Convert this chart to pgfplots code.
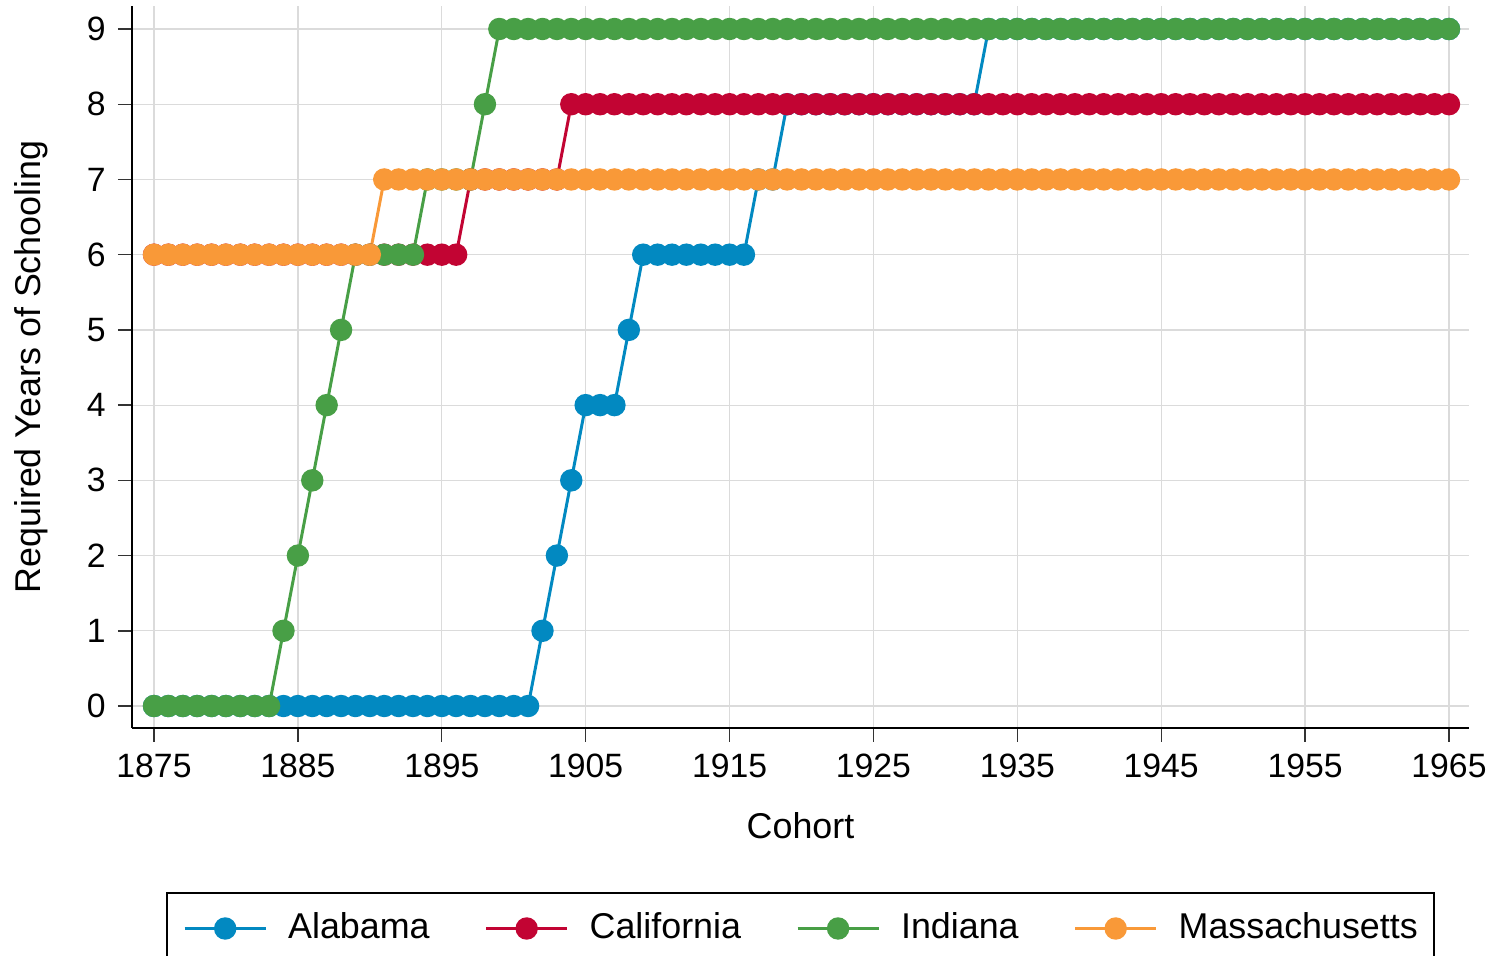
\documentclass[border=0pt]{standalone}
\usepackage{fontspec}
\setmainfont{Liberation Sans}
\usepackage{pgfplots}
\pgfplotsset{compat=1.18}
\definecolor{alab}{RGB}{2,137,193}
\definecolor{cali}{RGB}{194,4,51}
\definecolor{indi}{RGB}{72,159,70}
\definecolor{mass}{RGB}{249,153,56}
\newcommand{\fs}{\fontsize{9.6}{11.5}\selectfont}
\newcommand{\fl}{\fontsize{10.2}{12.2}\selectfont}
\begin{document}
\begin{tikzpicture}
\begin{axis}[
  scale only axis, width=133.7mm, height=72.2mm,
  xmin=1873.47, xmax=1966.39, ymin=-0.292, ymax=9.306,
  axis x line*=bottom, axis y line*=left,
  axis line style={-, black, line width=0.55pt},
  xtick={1875,1885,...,1965}, ytick={0,1,...,9},
  tick align=outside, major tick length=1.4mm,
  tick style={black!80, line width=0.4pt},
  grid=major, major grid style={color=black!14, line width=0.35pt},
  font=\fl,
  tick label style={font=\fs},
  /pgf/number format/1000 sep={},
  /pgf/number format/assume math mode=true,
  xlabel={Cohort}, ylabel={Required Years of Schooling},
  xlabel style={at={(axis description cs:0.5,-0.1357)}, anchor=center, font=\fl},
  ylabel style={at={(axis description cs:-0.07554,0.5)}, anchor=center, font=\fl},
  legend columns=4,
  legend image code/.code={\draw[mark repeat=2,mark phase=2,#1] plot coordinates {(0mm,0mm) (4.05mm,0mm) (8.1mm,0mm)};},
  legend style={at={(0.5,0)}, anchor=north, yshift=-16.4mm, draw=black, line width=0.5pt,
    font=\fl, inner xsep=1.6mm, inner ysep=2mm,
    nodes={inner xsep=0pt, inner ysep=0pt},
    /tikz/every odd column/.append style={column sep=2.1mm},
    /tikz/every even column/.append style={column sep=5.5mm}},
  every axis plot/.append style={line width=0.85pt, mark=*, mark size=0.97mm},
]
\addplot[color=alab, mark options={solid, draw=none, fill=alab}] coordinates {
(1875,0)(1876,0)(1877,0)(1878,0)(1879,0)(1880,0)(1881,0)(1882,0)(1883,0)(1884,0)
(1885,0)(1886,0)(1887,0)(1888,0)(1889,0)(1890,0)(1891,0)(1892,0)(1893,0)(1894,0)
(1895,0)(1896,0)(1897,0)(1898,0)(1899,0)(1900,0)(1901,0)(1902,1)(1903,2)(1904,3)
(1905,4)(1906,4)(1907,4)(1908,5)(1909,6)(1910,6)(1911,6)(1912,6)(1913,6)(1914,6)
(1915,6)(1916,6)(1917,7)(1918,7)(1919,8)(1920,8)(1921,8)(1922,8)(1923,8)(1924,8)
(1925,8)(1926,8)(1927,8)(1928,8)(1929,8)(1930,8)(1931,8)(1932,8)(1933,9)(1934,9)
(1935,9)(1936,9)(1937,9)(1938,9)(1939,9)(1940,9)(1941,9)(1942,9)(1943,9)(1944,9)
(1945,9)(1946,9)(1947,9)(1948,9)(1949,9)(1950,9)(1951,9)(1952,9)(1953,9)(1954,9)
(1955,9)(1956,9)(1957,9)(1958,9)(1959,9)(1960,9)(1961,9)(1962,9)(1963,9)(1964,9)
(1965,9)};
\addlegendentry{Alabama}
\addplot[color=cali, mark options={solid, draw=none, fill=cali}] coordinates {
(1875,6)(1876,6)(1877,6)(1878,6)(1879,6)(1880,6)(1881,6)(1882,6)(1883,6)(1884,6)
(1885,6)(1886,6)(1887,6)(1888,6)(1889,6)(1890,6)(1891,6)(1892,6)(1893,6)(1894,6)
(1895,6)(1896,6)(1897,7)(1898,7)(1899,7)(1900,7)(1901,7)(1902,7)(1903,7)(1904,8)
(1905,8)(1906,8)(1907,8)(1908,8)(1909,8)(1910,8)(1911,8)(1912,8)(1913,8)(1914,8)
(1915,8)(1916,8)(1917,8)(1918,8)(1919,8)(1920,8)(1921,8)(1922,8)(1923,8)(1924,8)
(1925,8)(1926,8)(1927,8)(1928,8)(1929,8)(1930,8)(1931,8)(1932,8)(1933,8)(1934,8)
(1935,8)(1936,8)(1937,8)(1938,8)(1939,8)(1940,8)(1941,8)(1942,8)(1943,8)(1944,8)
(1945,8)(1946,8)(1947,8)(1948,8)(1949,8)(1950,8)(1951,8)(1952,8)(1953,8)(1954,8)
(1955,8)(1956,8)(1957,8)(1958,8)(1959,8)(1960,8)(1961,8)(1962,8)(1963,8)(1964,8)
(1965,8)};
\addlegendentry{California}
\addplot[color=indi, mark options={solid, draw=none, fill=indi}] coordinates {
(1875,0)(1876,0)(1877,0)(1878,0)(1879,0)(1880,0)(1881,0)(1882,0)(1883,0)(1884,1)
(1885,2)(1886,3)(1887,4)(1888,5)(1889,6)(1890,6)(1891,6)(1892,6)(1893,6)(1894,7)
(1895,7)(1896,7)(1897,7)(1898,8)(1899,9)(1900,9)(1901,9)(1902,9)(1903,9)(1904,9)
(1905,9)(1906,9)(1907,9)(1908,9)(1909,9)(1910,9)(1911,9)(1912,9)(1913,9)(1914,9)
(1915,9)(1916,9)(1917,9)(1918,9)(1919,9)(1920,9)(1921,9)(1922,9)(1923,9)(1924,9)
(1925,9)(1926,9)(1927,9)(1928,9)(1929,9)(1930,9)(1931,9)(1932,9)(1933,9)(1934,9)
(1935,9)(1936,9)(1937,9)(1938,9)(1939,9)(1940,9)(1941,9)(1942,9)(1943,9)(1944,9)
(1945,9)(1946,9)(1947,9)(1948,9)(1949,9)(1950,9)(1951,9)(1952,9)(1953,9)(1954,9)
(1955,9)(1956,9)(1957,9)(1958,9)(1959,9)(1960,9)(1961,9)(1962,9)(1963,9)(1964,9)
(1965,9)};
\addlegendentry{Indiana}
\addplot[color=mass, mark options={solid, draw=none, fill=mass}] coordinates {
(1875,6)(1876,6)(1877,6)(1878,6)(1879,6)(1880,6)(1881,6)(1882,6)(1883,6)(1884,6)
(1885,6)(1886,6)(1887,6)(1888,6)(1889,6)(1890,6)(1891,7)(1892,7)(1893,7)(1894,7)
(1895,7)(1896,7)(1897,7)(1898,7)(1899,7)(1900,7)(1901,7)(1902,7)(1903,7)(1904,7)
(1905,7)(1906,7)(1907,7)(1908,7)(1909,7)(1910,7)(1911,7)(1912,7)(1913,7)(1914,7)
(1915,7)(1916,7)(1917,7)(1918,7)(1919,7)(1920,7)(1921,7)(1922,7)(1923,7)(1924,7)
(1925,7)(1926,7)(1927,7)(1928,7)(1929,7)(1930,7)(1931,7)(1932,7)(1933,7)(1934,7)
(1935,7)(1936,7)(1937,7)(1938,7)(1939,7)(1940,7)(1941,7)(1942,7)(1943,7)(1944,7)
(1945,7)(1946,7)(1947,7)(1948,7)(1949,7)(1950,7)(1951,7)(1952,7)(1953,7)(1954,7)
(1955,7)(1956,7)(1957,7)(1958,7)(1959,7)(1960,7)(1961,7)(1962,7)(1963,7)(1964,7)
(1965,7)};
\addlegendentry{Massachusetts}
\end{axis}
\pgfresetboundingbox
\path[use as bounding box] (-13.2mm,-22.8mm) rectangle (136.5mm,72.8mm);
\end{tikzpicture}
\end{document}
